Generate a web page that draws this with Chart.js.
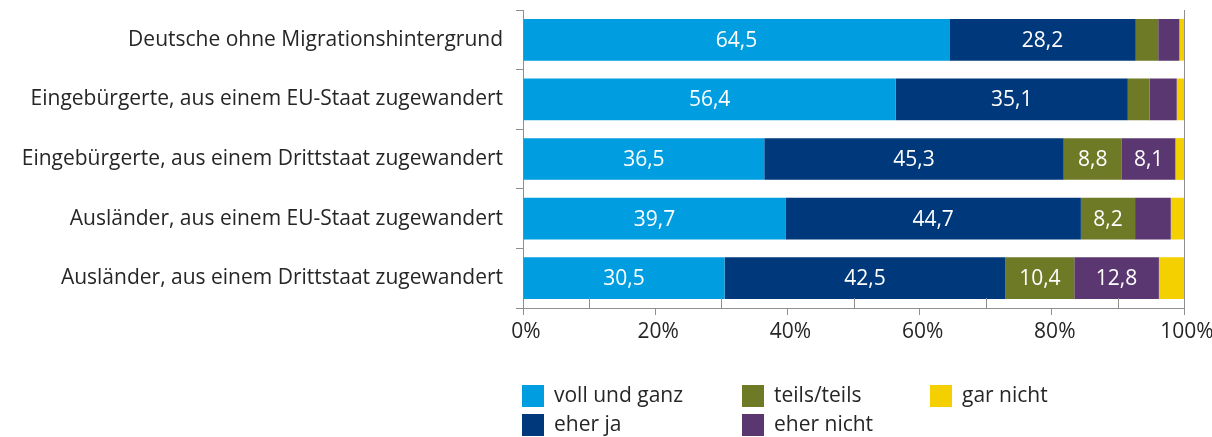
<!DOCTYPE html>
<html>
<head>
<meta charset="utf-8">
<script src="https://cdn.jsdelivr.net/npm/chart.js@4/dist/chart.umd.min.js"></script>
<style>
html,body{margin:0;padding:0;background:#fff;}
#wrap{position:relative;width:1212px;height:437px;}
</style>
</head>
<body>
<div id="wrap"><canvas id="c"></canvas></div>
<script>
const categories = [
  "Deutsche ohne Migrationshintergrund",
  "Eingebürgerte, aus einem EU-Staat zugewandert",
  "Eingebürgerte, aus einem Drittstaat zugewandert",
  "Ausländer, aus einem EU-Staat zugewandert",
  "Ausländer, aus einem Drittstaat zugewandert"
];
const seriesNames = ["voll und ganz", "eher ja", "teils/teils", "eher nicht", "gar nicht"];
const vollUndGanz = [64.5, 56.4, 36.5, 39.7, 30.5];
const eherJa      = [28.2, 35.1, 45.3, 44.7, 42.5];
const teilsTeils  = [3.4, 3.3, 8.8, 8.2, 10.4];
const eherNicht   = [3.2, 4.1, 8.1, 5.4, 12.8];
const garNicht    = [0.7, 1.1, 1.3, 2.0, 3.8];
const xTickValues = [0, 20, 40, 60, 80, 100];

const colors = ["#009ee0", "#00397b", "#6f7a27", "#5b3771", "#f5d000"];
const FONT = "Open Sans";
const textColor = "#262626";
const axisColor = "#8f8f8f";

const allSeries = [vollUndGanz, eherJa, teilsTeils, eherNicht, garNicht];

const valueLabels = {
  id: 'valueLabels',
  afterDatasetsDraw(chart) {
    const ctx = chart.ctx;
    ctx.save();
    ctx.font = "21px '" + FONT + "'";
    ctx.fillStyle = "#ffffff";
    ctx.textAlign = "center";
    ctx.textBaseline = "middle";
    chart.data.datasets.forEach((ds, i) => {
      const meta = chart.getDatasetMeta(i);
      meta.data.forEach((el, j) => {
        const v = ds.data[j];
        if (v >= 8) {
          const p = el.getCenterPoint();
          ctx.fillText(v.toFixed(1).replace('.', ','), p.x, p.y + 1);
        }
      });
    });
    ctx.restore();
  }
};

const extraAxis = {
  id: 'extraAxis',
  afterDraw(chart) {
    const ctx = chart.ctx;
    const xs = chart.scales.x;
    const area = chart.chartArea;
    ctx.save();
    ctx.strokeStyle = axisColor;
    ctx.lineWidth = 1;
    [10, 30, 50, 70, 90].forEach(v => {
      const x = Math.round(xs.getPixelForValue(v)) + 0.5;
      ctx.beginPath();
      ctx.moveTo(x, area.bottom);
      ctx.lineTo(x, area.bottom - 10);
      ctx.stroke();
    });
    const xr = Math.round(xs.getPixelForValue(100)) + 0.5;
    ctx.beginPath();
    ctx.moveTo(xr, area.top);
    ctx.lineTo(xr, area.bottom);
    ctx.stroke();
    ctx.restore();
  }
};

const customLegend = {
  id: 'customLegend',
  afterDraw(chart) {
    const ctx = chart.ctx;
    const left = chart.chartArea.left;
    const colX = [left - 1, left + 219, left + 407];
    const rowY = [385, 414];
    const order = [[0,0],[1,0],[0,1],[1,1],[0,2]];
    ctx.save();
    ctx.font = "21px '" + FONT + "'";
    ctx.textBaseline = "middle";
    ctx.textAlign = "left";
    chart.data.datasets.forEach((ds, i) => {
      const [r, c] = order[i];
      const x = colX[c], y = rowY[r];
      ctx.fillStyle = ds.backgroundColor;
      ctx.fillRect(x, y, 22, 22);
      ctx.fillStyle = textColor;
      ctx.fillText(ds.label, x + 32, y + 11);
    });
    ctx.restore();
  }
};

new Chart(document.getElementById('c'), {
  type: 'bar',
  data: {
    labels: categories,
    datasets: allSeries.map((d, i) => ({
      label: seriesNames[i],
      data: d,
      backgroundColor: colors[i],
      borderWidth: 0,
      categoryPercentage: 1.0,
      barPercentage: 0.7
    }))
  },
  options: {
    indexAxis: 'y',
    responsive: true,
    maintainAspectRatio: false,
    animation: false,
    layout: { padding: { top: 10, right: 28, bottom: 0, left: 0 } },
    plugins: { legend: { display: false }, tooltip: { enabled: false } },
    scales: {
      x: {
        stacked: true,
        min: 0, max: 100,
        afterBuildTicks(scale) { scale.ticks = xTickValues.map(v => ({ value: v })); },
        afterFit(scale) { scale.height = 437 - 308; scale.paddingLeft = 0; scale.paddingRight = 0; },
        ticks: {
          callback: v => v + '%',
          color: textColor,
          font: { family: FONT, size: 21 },
          padding: 4,
          labelOffset: 3,
          maxRotation: 0
        },
        grid: { drawOnChartArea: false, drawTicks: true, tickLength: 7, color: axisColor },
        border: { display: true, color: axisColor }
      },
      y: {
        stacked: true,
        afterFit(scale) { scale.width = 523; scale.paddingTop = 0; scale.paddingBottom = 0; },
        ticks: {
          color: textColor,
          font: { family: FONT, size: 21 },
          padding: 13
        },
        grid: { drawOnChartArea: false, drawTicks: true, tickLength: 7, color: axisColor, offset: true },
        border: { display: true, color: axisColor }
      }
    }
  },
  plugins: [valueLabels, extraAxis, customLegend]
});
</script>
</body>
</html>
